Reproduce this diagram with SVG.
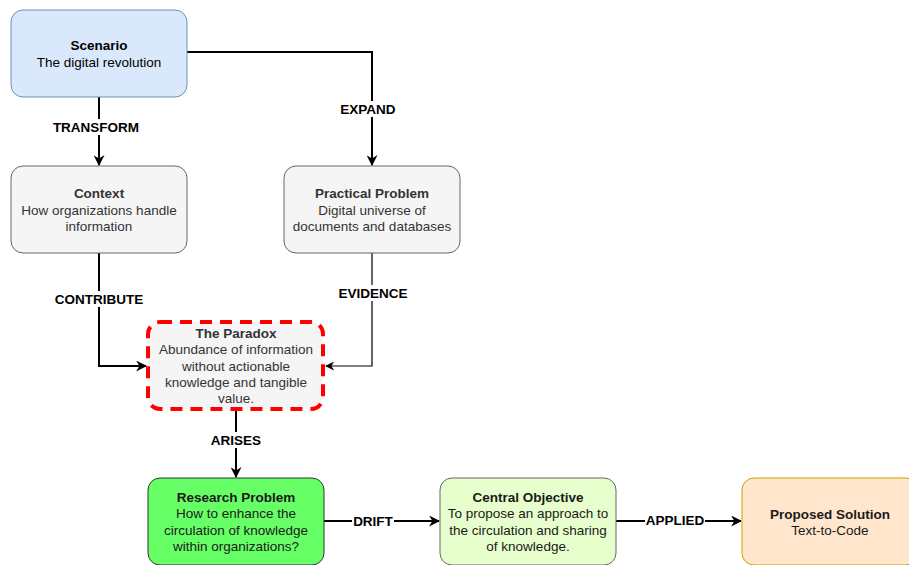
<svg xmlns="http://www.w3.org/2000/svg" width="909" height="565" viewBox="0 0 909 565">
<style>
text{font-family:"Liberation Sans",Arial,sans-serif;font-size:13.5px;text-anchor:middle}
.t{font-weight:bold}
.lbl{font-weight:bold;fill:#000}
.e{fill:none;stroke:#000;stroke-width:2}
.e1{fill:none;stroke:#000;stroke-width:1.2}
.bg{fill:#fff}
</style>
<defs>
<marker id="a" viewBox="0 0 10 10" refX="9" refY="5" markerWidth="11" markerHeight="11" markerUnits="userSpaceOnUse" orient="auto">
<path d="M0,0 L10,5 L0,10 L3,5 Z" fill="#000"/>
</marker>
<marker id="a2" viewBox="0 0 10 10" refX="9" refY="5" markerWidth="9" markerHeight="9" markerUnits="userSpaceOnUse" orient="auto">
<path d="M0,0 L10,5 L0,10 L3,5 Z" fill="#000"/>
</marker>
</defs>
<rect width="909" height="565" fill="#fff"/>
<g id="connectors">
<path class="e" d="M99,97 V165" marker-end="url(#a)"/>
<rect class="bg" x="52" y="119" width="88" height="16"/>
<text class="lbl" x="96" y="132">TRANSFORM</text>
<path class="e" d="M187,52 H372 V165" marker-end="url(#a)"/>
<rect class="bg" x="340" y="101" width="58" height="16"/>
<text class="lbl" x="368" y="114">EXPAND</text>
<path class="e" d="M99,253 V366 H146" marker-end="url(#a)"/>
<rect class="bg" x="53" y="291" width="92" height="16"/>
<text class="lbl" x="99" y="304">CONTRIBUTE</text>
<path class="e1" d="M372,253 V366 H326" marker-end="url(#a2)"/>
<rect class="bg" x="338" y="285" width="72" height="16"/>
<text class="lbl" x="373" y="298">EVIDENCE</text>
<path class="e" d="M236,410 V477" marker-end="url(#a)"/>
<rect class="bg" x="210" y="432" width="54" height="16"/>
<text class="lbl" x="236" y="445">ARISES</text>
<path class="e" d="M324,521 H439" marker-end="url(#a)"/>
<rect class="bg" x="352" y="513" width="42" height="16"/>
<text class="lbl" x="373" y="526">DRIFT</text>
<path class="e" d="M616,521 H741" marker-end="url(#a)"/>
<rect class="bg" x="645" y="512" width="60" height="16"/>
<text class="lbl" x="675" y="525">APPLIED</text>
</g>
<g id="scenario">
<rect x="11" y="10" width="176" height="87" rx="12" fill="#dae8fc" stroke="#6c8ebf"/>
<text class="t" x="99" y="50">Scenario</text>
<text x="99" y="67">The digital revolution</text>
</g>
<g id="context" fill="#333">
<rect x="11" y="166" width="176" height="87" rx="12" fill="#f5f5f5" stroke="#666"/>
<text class="t" x="99" y="198">Context</text>
<text x="99" y="215">How organizations handle</text>
<text x="99" y="231">information</text>
</g>
<g id="practical" fill="#333">
<rect x="284" y="166" width="176" height="87" rx="12" fill="#f5f5f5" stroke="#666"/>
<text class="t" x="372" y="198">Practical Problem</text>
<text x="372" y="215">Digital universe of</text>
<text x="372" y="231">documents and databases</text>
</g>
<g id="paradox" fill="#333">
<rect x="148" y="322" width="175" height="87" rx="12" fill="#f5f5f5" stroke="#ff0000" stroke-width="4" stroke-dasharray="12 8"/>
<text class="t" x="236" y="338">The Paradox</text>
<text x="236" y="354">Abundance of information</text>
<text x="236" y="371">without actionable</text>
<text x="236" y="387">knowledge and tangible</text>
<text x="236" y="403">value.</text>
</g>
<g id="research" fill="#1a1a1a">
<rect x="148" y="478" width="176" height="87" rx="12" fill="#66ff66" stroke="#333"/>
<text class="t" x="236" y="502">Research Problem</text>
<text x="236" y="518">How to enhance the</text>
<text x="236" y="535">circulation of knowledge</text>
<text x="236" y="551">within organizations?</text>
</g>
<g id="objective" fill="#1a1a1a">
<rect x="440" y="478" width="176" height="87" rx="12" fill="#e6ffcc" stroke="#666"/>
<text class="t" x="528" y="502">Central Objective</text>
<text x="528" y="518">To propose an approach to</text>
<text x="528" y="535">the circulation and sharing</text>
<text x="528" y="551">of knowledge.</text>
</g>
<g id="solution" fill="#1a1a1a">
<rect x="742" y="478" width="176" height="87" rx="12" fill="#ffe6cc" stroke="#d79b00"/>
<text class="t" x="830" y="519">Proposed Solution</text>
<text x="830" y="535">Text-to-Code</text>
</g>
</svg>
